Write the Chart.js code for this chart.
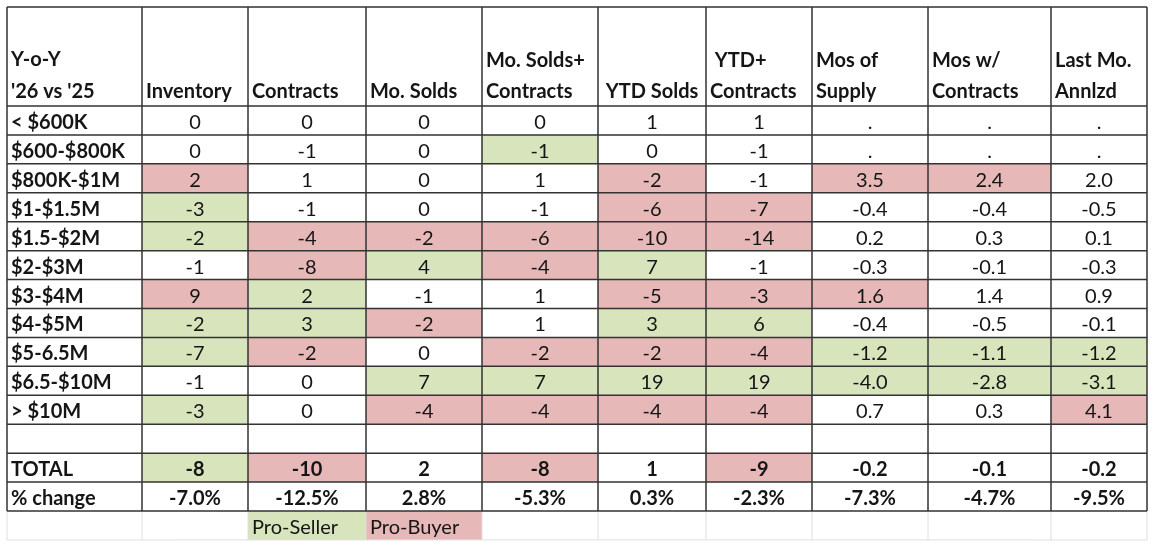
<!DOCTYPE html>
<html>
<head>
<meta charset="utf-8">
<title>Y-o-Y '26 vs '25</title>
<script src="https://cdn.jsdelivr.net/npm/chart.js@4.4.1/dist/chart.umd.min.js"></script>
<style>
  html, body { margin: 0; padding: 0; background: #fff; }
  #wrap { width: 1156px; height: 552px; }
</style>
</head>
<body>
<div id="wrap"><canvas id="yoyTable" width="1156" height="552"></canvas></div>
<script>
// ---- data ----
const rowLabels = ["< $600K", "$600-$800K", "$800K-$1M", "$1-$1.5M", "$1.5-$2M",
  "$2-$3M", "$3-$4M", "$4-$5M", "$5-6.5M", "$6.5-$10M", "> $10M"];

const cornerTitle = ["Y-o-Y", "'26 vs '25"];

const columnTitles = [
  ["", "Inventory"],
  ["", "Contracts"],
  ["", "Mo. Solds"],
  ["Mo. Solds+", "Contracts"],
  ["", "YTD Solds"],
  [" YTD+", "Contracts"],
  ["Mos of", "Supply"],
  ["Mos w/", "Contracts"],
  ["Last Mo.", "Annlzd"]
];

const inventory        = [0, 0, 2, -3, -2, -1, 9, -2, -7, -1, -3];
const contracts        = [0, -1, 1, -1, -4, -8, 2, 3, -2, 0, 0];
const moSolds          = [0, 0, 0, 0, -2, 4, -1, -2, 0, 7, -4];
const moSoldsContracts = [0, -1, 1, -1, -6, -4, 1, 1, -2, 7, -4];
const ytdSolds         = [1, 0, -2, -6, -10, 7, -5, 3, -2, 19, -4];
const ytdContracts     = [1, -1, -1, -7, -14, -1, -3, 6, -4, 19, -4];
const mosSupply        = [null, null, 3.5, -0.4, 0.2, -0.3, 1.6, -0.4, -1.2, -4.0, 0.7];
const mosContracts     = [null, null, 2.4, -0.4, 0.3, -0.1, 1.4, -0.5, -1.1, -2.8, 0.3];
const lastMoAnnlzd     = [null, null, 2.0, -0.5, 0.1, -0.3, 0.9, -0.1, -1.2, -3.1, 4.1];

// S = pro-seller, B = pro-buyer
const inventoryTone        = ["", "", "B", "S", "S", "", "B", "S", "S", "", "S"];
const contractsTone        = ["", "", "", "", "B", "B", "S", "S", "B", "", ""];
const moSoldsTone          = ["", "", "", "", "B", "S", "", "B", "", "S", "B"];
const moSoldsContractsTone = ["", "S", "", "", "B", "B", "", "", "B", "S", "B"];
const ytdSoldsTone         = ["", "", "B", "B", "B", "S", "B", "S", "B", "S", "B"];
const ytdContractsTone     = ["", "", "", "B", "B", "", "B", "S", "B", "S", "B"];
const mosSupplyTone        = ["", "", "B", "", "", "", "B", "", "S", "S", ""];
const mosContractsTone     = ["", "", "B", "", "", "", "", "", "S", "S", ""];
const lastMoAnnlzdTone     = ["", "", "", "", "", "", "", "", "S", "S", "B"];

const totals     = [-8, -10, 2, -8, 1, -9, -0.2, -0.1, -0.2];
const totalsTone = ["S", "B", "", "B", "", "B", "", "", ""];
const pctChange  = [-7.0, -12.5, 2.8, -5.3, 0.3, -2.3, -7.3, -4.7, -9.5];
const decimals   = [0, 0, 0, 0, 0, 0, 1, 1, 1];

// legend sits under the Contracts and Mo. Solds columns
const legendItems = [
  { label: "Pro-Seller", tone: "S", column: 2 },
  { label: "Pro-Buyer",  tone: "B", column: 3 }
];

const columnValues = [inventory, contracts, moSolds, moSoldsContracts,
  ytdSolds, ytdContracts, mosSupply, mosContracts, lastMoAnnlzd];
const columnTones = [inventoryTone, contractsTone, moSoldsTone, moSoldsContractsTone,
  ytdSoldsTone, ytdContractsTone, mosSupplyTone, mosContractsTone, lastMoAnnlzdTone];

// ---- layout (scale units) ----
const colEdges = [0, 135, 241, 359, 475, 591, 699, 805, 921, 1044, 1140];
const headerH = 99;
const bodyRows = 14;           // 11 ranges, blank, TOTAL, % change
const rowH = 405 / bodyRows;
const headerAlign = ["left", "left", "left", "left", "center", "left", "left", "left", "left"];

const toneColor = { S: "#D8E4BC", B: "#E6B8B7" };
const textColor = "#151515";
const fontFamily = "Lato, 'Noto Sans', sans-serif";

function rowTop(i){
  return headerH + i * rowH;
}

function fmt(v, d){
  if(v === null) return ".";
  return v.toFixed(d);
}

const tablePlugin = {
  id: "tablePlugin",
  afterDraw(chart){
    const ctx = chart.ctx;
    const xs = chart.scales.x;
    const ys = chart.scales.y;
    const px = v => xs.getPixelForValue(v);
    const py = v => ys.getPixelForValue(v);

    function fillCell(c, r, tone){
      if(!tone) return;
      ctx.fillStyle = toneColor[tone];
      ctx.fillRect(px(colEdges[c]), py(rowTop(r)),
        px(colEdges[c + 1]) - px(colEdges[c]), py(rowTop(r + 1)) - py(rowTop(r)));
    }

    ctx.save();

    // shaded cells
    columnTones.forEach((tones, c) => {
      tones.forEach((t, r) => fillCell(c + 1, r, t));
    });
    totalsTone.forEach((t, c) => fillCell(c + 1, 12, t));
    legendItems.forEach(item => fillCell(item.column, bodyRows, item.tone));

    // faint sheet grid under the table
    ctx.strokeStyle = "#dedede";
    ctx.lineWidth = 1;
    ctx.beginPath();
    colEdges.forEach(e => {
      ctx.moveTo(px(e), py(rowTop(bodyRows)));
      ctx.lineTo(px(e), py(rowTop(bodyRows + 1)));
    });
    ctx.moveTo(px(0), py(rowTop(bodyRows + 1)));
    ctx.lineTo(px(colEdges[colEdges.length - 1]), py(rowTop(bodyRows + 1)));
    ctx.stroke();

    // table borders
    ctx.strokeStyle = "#333";
    ctx.lineWidth = 1.5;
    ctx.beginPath();
    const right = colEdges[colEdges.length - 1];
    [0].concat(Array.from({ length: bodyRows + 1 }, (_, i) => rowTop(i))).forEach(y => {
      ctx.moveTo(px(0), py(y));
      ctx.lineTo(px(right), py(y));
    });
    colEdges.forEach(e => {
      ctx.moveTo(px(e), py(0));
      ctx.lineTo(px(e), py(rowTop(bodyRows)));
    });
    ctx.stroke();

    ctx.fillStyle = textColor;
    ctx.textBaseline = "alphabetic";

    // header
    ctx.font = "bold 20px " + fontFamily;
    const line1 = py(60);
    const line2 = py(90.5);
    ctx.textAlign = "left";
    ctx.fillText(cornerTitle[0], px(0) + 4, line1 - 1);
    ctx.fillText(cornerTitle[1], px(0) + 4, line2);
    columnTitles.forEach((t, c) => {
      const l = px(colEdges[c + 1]);
      const r = px(colEdges[c + 2]);
      ctx.textAlign = headerAlign[c];
      const x = headerAlign[c] === "center" ? (l + r) / 2 : l + 4;
      if(t[0]) ctx.fillText(t[0], x, line1);
      ctx.fillText(t[1], x, line2);
    });

    // row labels
    ctx.textAlign = "left";
    rowLabels.concat(["", "TOTAL", "% change"]).forEach((lab, r) => {
      if(!lab) return;
      ctx.fillText(lab, px(0) + 4, py(rowTop(r + 1)) - 6);
    });

    // values
    ctx.textAlign = "center";
    function cellText(text, c, r){
      const cx = (px(colEdges[c]) + px(colEdges[c + 1])) / 2;
      ctx.fillText(text, cx, py(rowTop(r + 1)) - 6);
    }
    ctx.font = "20px " + fontFamily;
    columnValues.forEach((vals, c) => {
      vals.forEach((v, r) => cellText(fmt(v, decimals[c]), c + 1, r));
    });
    ctx.font = "bold 20px " + fontFamily;
    totals.forEach((v, c) => cellText(fmt(v, decimals[c]), c + 1, 12));
    pctChange.forEach((v, c) => cellText(v.toFixed(1) + "%", c + 1, 13));

    // legend
    ctx.font = "20px " + fontFamily;
    ctx.textAlign = "left";
    legendItems.forEach(item => {
      ctx.fillText(item.label, px(colEdges[item.column]) + 4, py(rowTop(bodyRows + 1)) - 6);
    });

    ctx.restore();
  }
};

new Chart(
  document.getElementById("yoyTable"),
  {
    type: "scatter",
    data: {
      datasets: [{ data: [] }]
    },
    options: {
      responsive: false,
      animation: false,
      layout: {
        padding: { left: 7, top: 7, right: 9, bottom: 12 }
      },
      plugins: {
        legend: { display: false },
        tooltip: { enabled: false }
      },
      scales: {
        x: { type: "linear", min: 0, max: 1140, display: false },
        y: { type: "linear", min: 0, max: 533, reverse: true, display: false }
      }
    },
    plugins: [tablePlugin]
  }
);
</script>
</body>
</html>
